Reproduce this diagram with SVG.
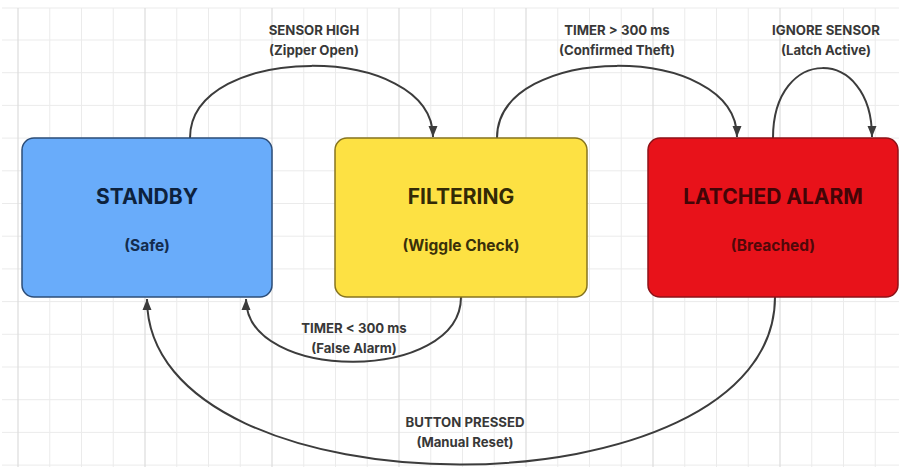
<svg xmlns="http://www.w3.org/2000/svg" width="899" height="467" viewBox="0 0 899 467">
  <defs>
    <style>
      .minor { stroke: #ebebeb; stroke-width: 1; }
      .major { stroke: #dcdcdc; stroke-width: 1.2; }
      .box { stroke-width: 1.5; }
      .title { font-family: Inter, "Liberation Sans", sans-serif; font-weight: 700; font-size: 21px; text-anchor: middle; }
      .sub { font-family: Inter, "Liberation Sans", sans-serif; font-weight: 700; font-size: 15.5px; text-anchor: middle; }
      .lbl { font-family: Inter, "Liberation Sans", sans-serif; font-weight: 700; font-size: 13.2px; fill: #383838; text-anchor: middle; }
      .edge { fill: none; stroke: #3c3c3c; stroke-width: 2; marker-end: url(#arrow); }
    </style>
    <marker id="arrow" markerUnits="userSpaceOnUse" markerWidth="12" markerHeight="12" viewBox="0 0 12 12" refX="11" refY="6" orient="auto">
      <path d="M0,1.5 L11,6 L0,10.5 Z" fill="#3c3c3c"/>
    </marker>
  </defs>

  <rect x="0" y="0" width="899" height="467" fill="#ffffff"/>

  <!-- background grid -->
  <g id="grid">
    <line class="minor" x1="2" y1="8" x2="899" y2="8"/>
    <line class="minor" x1="2" y1="40" x2="899" y2="40"/>
    <line class="minor" x1="2" y1="72.7" x2="899" y2="72.7"/>
    <line class="minor" x1="2" y1="105.4" x2="899" y2="105.4"/>
    <line class="minor" x1="2" y1="138.1" x2="899" y2="138.1"/>
    <line class="minor" x1="2" y1="170.8" x2="899" y2="170.8"/>
    <line class="minor" x1="2" y1="203.5" x2="899" y2="203.5"/>
    <line class="minor" x1="2" y1="236.2" x2="899" y2="236.2"/>
    <line class="minor" x1="2" y1="268.9" x2="899" y2="268.9"/>
    <line class="minor" x1="2" y1="301.6" x2="899" y2="301.6"/>
    <line class="minor" x1="2" y1="334.3" x2="899" y2="334.3"/>
    <line class="minor" x1="2" y1="367" x2="899" y2="367"/>
    <line class="minor" x1="2" y1="399.7" x2="899" y2="399.7"/>
    <line class="minor" x1="2" y1="432.4" x2="899" y2="432.4"/>
    <line class="minor" x1="2" y1="465.1" x2="899" y2="465.1"/>

    <line class="major" x1="18" y1="8" x2="18" y2="467"/>
    <line class="minor" x1="49.75" y1="8" x2="49.75" y2="467"/>
    <line class="minor" x1="81.5" y1="8" x2="81.5" y2="467"/>
    <line class="minor" x1="113.25" y1="8" x2="113.25" y2="467"/>
    <line class="major" x1="145" y1="8" x2="145" y2="467"/>
    <line class="minor" x1="176.75" y1="8" x2="176.75" y2="467"/>
    <line class="minor" x1="208.5" y1="8" x2="208.5" y2="467"/>
    <line class="minor" x1="240.25" y1="8" x2="240.25" y2="467"/>
    <line class="major" x1="272" y1="8" x2="272" y2="467"/>
    <line class="minor" x1="303.75" y1="8" x2="303.75" y2="467"/>
    <line class="minor" x1="335.5" y1="8" x2="335.5" y2="467"/>
    <line class="minor" x1="367.25" y1="8" x2="367.25" y2="467"/>
    <line class="major" x1="399" y1="8" x2="399" y2="467"/>
    <line class="minor" x1="430.75" y1="8" x2="430.75" y2="467"/>
    <line class="minor" x1="462.5" y1="8" x2="462.5" y2="467"/>
    <line class="minor" x1="494.25" y1="8" x2="494.25" y2="467"/>
    <line class="major" x1="526" y1="8" x2="526" y2="467"/>
    <line class="minor" x1="557.75" y1="8" x2="557.75" y2="467"/>
    <line class="minor" x1="589.5" y1="8" x2="589.5" y2="467"/>
    <line class="minor" x1="621.25" y1="8" x2="621.25" y2="467"/>
    <line class="major" x1="653" y1="8" x2="653" y2="467"/>
    <line class="minor" x1="684.75" y1="8" x2="684.75" y2="467"/>
    <line class="minor" x1="716.5" y1="8" x2="716.5" y2="467"/>
    <line class="minor" x1="748.25" y1="8" x2="748.25" y2="467"/>
    <line class="major" x1="780" y1="8" x2="780" y2="467"/>
    <line class="minor" x1="811.75" y1="8" x2="811.75" y2="467"/>
    <line class="minor" x1="843.5" y1="8" x2="843.5" y2="467"/>
    <line class="minor" x1="875.25" y1="8" x2="875.25" y2="467"/>
  </g>

  <!-- transitions -->
  <g id="connectors">
    <path class="edge" d="M190,138 C190,42 433,42 433,137"/>
    <path class="edge" d="M497,138 C497,42 737,42 737,137"/>
    <path class="edge" d="M773,138 C773,45 872,45 872,137"/>
    <path class="edge" d="M461,297 C461,383 246,383 246,299"/>
    <path class="edge" d="M775,297 C775,520 147,520 147,299"/>

    <text class="lbl" x="314" y="35">SENSOR HIGH</text>
    <text class="lbl" x="314" y="55">(Zipper Open)</text>
    <text class="lbl" x="617" y="35">TIMER &gt; 300 ms</text>
    <text class="lbl" x="617" y="55">(Confirmed Theft)</text>
    <text class="lbl" x="826" y="35">IGNORE SENSOR</text>
    <text class="lbl" x="826" y="55">(Latch Active)</text>
    <text class="lbl" x="354" y="333">TIMER &lt; 300 ms</text>
    <text class="lbl" x="354" y="353">(False Alarm)</text>
    <text class="lbl" x="465" y="427">BUTTON PRESSED</text>
    <text class="lbl" x="465" y="447">(Manual Reset)</text>
  </g>

  <!-- states -->
  <g id="standby">
    <rect class="box" x="22" y="138" width="250" height="159" rx="12" fill="#69acfa" stroke="#2c4d78"/>
    <text class="title" x="147" y="204" fill="#0d223d">STANDBY</text>
    <text class="sub" x="147" y="251" fill="#142c4d">(Safe)</text>
  </g>

  <g id="filtering">
    <rect class="box" x="335" y="138" width="252" height="159" rx="12" fill="#fde143" stroke="#86741f"/>
    <text class="title" x="461" y="204" fill="#332a06">FILTERING</text>
    <text class="sub" x="461" y="251" fill="#3a300a">(Wiggle Check)</text>
  </g>

  <g id="latched-alarm">
    <rect class="box" x="648" y="138" width="250" height="159" rx="12" fill="#e8121a" stroke="#8e1218"/>
    <text class="title" x="773" y="204" fill="#430507">LATCHED ALARM</text>
    <text class="sub" x="773" y="251" fill="#500809">(Breached)</text>
  </g>
</svg>
